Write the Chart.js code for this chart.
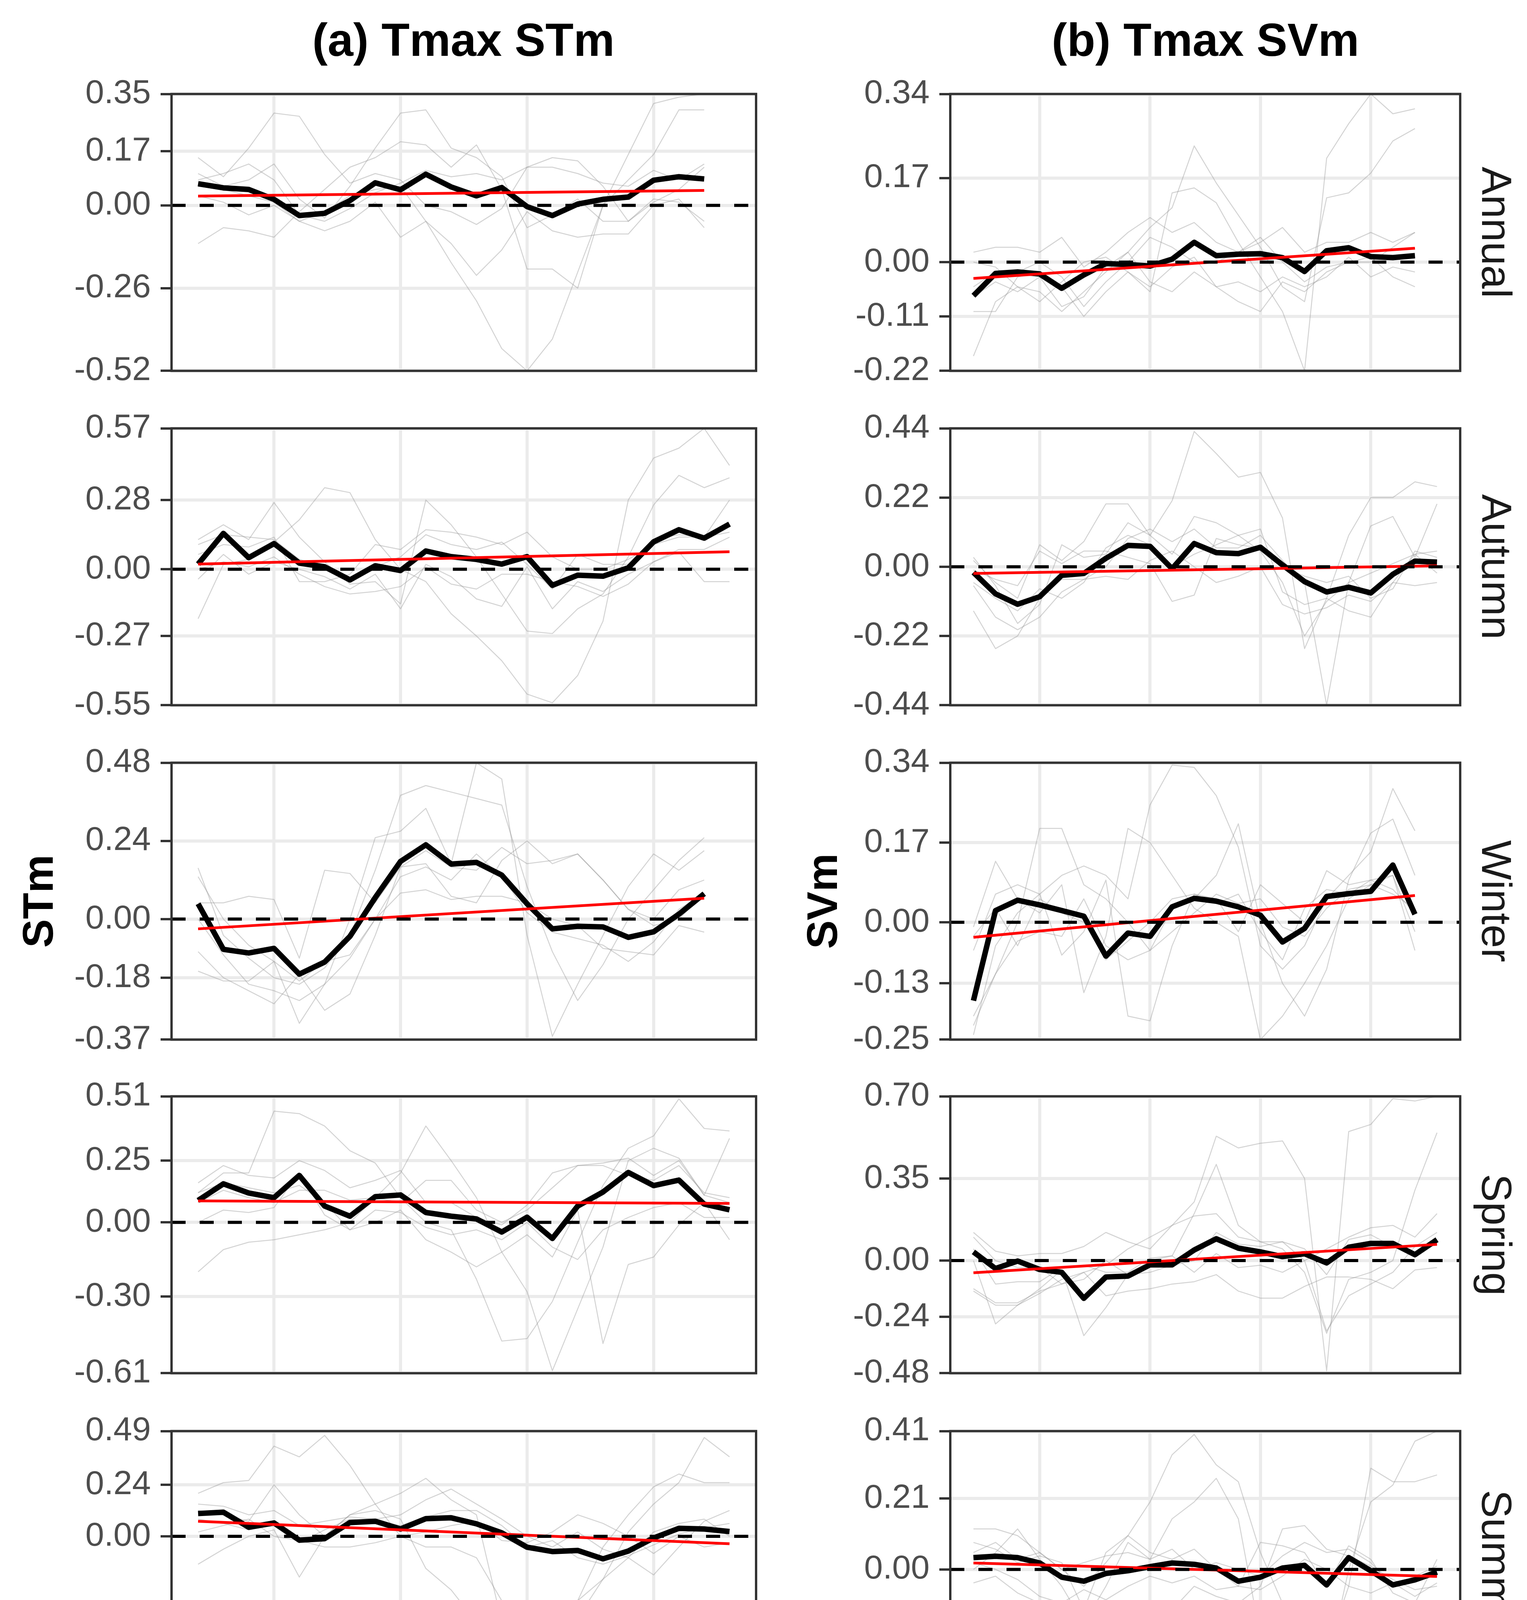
<!DOCTYPE html>
<html>
<head>
<meta charset="utf-8">
<script src="https://cdn.jsdelivr.net/npm/chart.js@4.4.1/dist/chart.umd.min.js"></script>
<style>
  body { margin: 0; background: #fff; width: 3908px; height: 4674px; position: relative; overflow: hidden;
         font-family: "Liberation Sans", Arial, sans-serif; }
  canvas { position: absolute; }
  .t { position: absolute; white-space: nowrap; line-height: 1; transform: translate(-50%, -50%); color: #000; }
  .b { font-weight: bold; }
  .strip { font-size: 108px; color: #1A1A1A; transform: translate(-50%, -50%) rotate(90deg); }
</style>
</head>
<body>
<div class="t b" style="left:1186px;top:102px;font-size:118px">(a) Tmax STm</div>
<div class="t b" style="left:3085px;top:102px;font-size:118px">(b) Tmax SVm</div>
<div class="t b" style="left:97px;top:2307px;font-size:110px;transform:translate(-50%,-50%) rotate(-90deg)">STm</div>
<div class="t b" style="left:2104px;top:2307px;font-size:110px;transform:translate(-50%,-50%) rotate(-90deg)">SVm</div>
<div class="t b" style="left:1186px;top:4596px;font-size:110px">Year</div>
<div class="t b" style="left:3085px;top:4596px;font-size:110px">Year</div>
<div id="strips"></div>
<script>
// years shared by every panel (annual and winter series stop at 2017)
const years = [1997, 1998, 1999, 2000, 2001, 2002, 2003, 2004, 2005, 2006, 2007,
               2008, 2009, 2010, 2011, 2012, 2013, 2014, 2015, 2016, 2017, 2018];
const xTicks = [2000, 2005, 2010, 2015];
const seasons = ['Annual', 'Autumn', 'Winter', 'Spring', 'Summer'];

// ---- (a) STm ----
const stmAnnualTicks = [0.35, 0.17, 0.00, -0.26, -0.52];
const stmAnnualMean = [0.068, 0.055, 0.050, 0.019, -0.032, -0.025, 0.015, 0.071, 0.049, 0.098, 0.058, 0.030, 0.056, -0.004, -0.032, 0.004, 0.019, 0.026, 0.079, 0.090, 0.083];
const stmAnnualTrend = [0.029, 0.047];
const stmAnnualStations = [
  [0.15, 0.09, 0.18, 0.29, 0.28, 0.16, 0.07, 0.10, 0.08, 0.00, -0.02, -0.06, -0.01, 0.12, 0.15, 0.14, 0.06, -0.05, 0.01, 0.05, 0.12],
  [0.10, 0.06, 0.08, 0.13, 0.02, -0.04, 0.06, 0.18, 0.29, 0.30, 0.18, 0.15, 0.09, -0.07, -0.03, 0.02, -0.05, -0.05, 0.02, 0.01, -0.05],
  [-0.12, -0.07, -0.08, -0.10, -0.02, 0.05, 0.12, 0.15, 0.20, 0.19, 0.12, 0.19, 0.05, -0.20, -0.20, -0.26, 0.00, 0.08, 0.16, 0.30, 0.30],
  [0.03, 0.01, -0.03, 0.00, -0.05, -0.02, 0.03, 0.05, 0.06, -0.05, -0.18, -0.30, -0.45, -0.52, -0.42, -0.21, 0.00, 0.16, 0.32, 0.34, 0.35],
  [0.06, 0.05, 0.03, 0.01, -0.05, -0.08, -0.05, 0.01, -0.10, -0.05, -0.12, -0.22, -0.14, -0.02, -0.08, -0.10, -0.09, -0.09, 0.00, 0.02, -0.07],
  [0.08, 0.10, 0.13, 0.08, -0.03, -0.05, -0.01, 0.04, 0.07, 0.11, 0.09, 0.10, 0.08, 0.12, 0.12, 0.10, 0.07, 0.06, 0.11, 0.08, 0.13]
];

const stmAutumnTicks = [0.57, 0.28, 0.00, -0.27, -0.55];
const stmAutumnMean = [0.021, 0.145, 0.047, 0.104, 0.025, 0.010, -0.043, 0.014, -0.005, 0.074, 0.051, 0.040, 0.021, 0.051, -0.065, -0.024, -0.028, 0.006, 0.111, 0.160, 0.126, 0.183];
const stmAutumnTrend = [0.021, 0.071];
const stmAutumnStations = [
  [0.12, 0.18, 0.12, 0.27, 0.13, 0.03, -0.06, -0.05, -0.14, 0.28, 0.18, 0.05, -0.10, -0.25, -0.26, -0.16, -0.10, 0.05, 0.26, 0.38, 0.33, 0.37],
  [-0.20, 0.02, 0.04, 0.11, 0.20, 0.33, 0.31, 0.12, 0.00, -0.05, -0.18, -0.27, -0.37, -0.505, -0.54, -0.43, -0.21, 0.28, 0.45, 0.49, 0.57, 0.42],
  [0.06, 0.10, 0.09, 0.13, -0.05, -0.05, -0.02, 0.10, 0.08, 0.16, 0.15, 0.13, 0.10, 0.15, 0.05, 0.00, 0.00, 0.04, 0.10, 0.13, 0.13, 0.28],
  [-0.04, 0.06, -0.02, 0.03, 0.00, -0.03, -0.08, -0.02, -0.16, 0.02, -0.03, -0.12, -0.15, 0.01, -0.16, -0.05, -0.09, -0.02, 0.03, 0.07, -0.05, -0.05],
  [0.10, 0.14, 0.13, 0.12, 0.04, 0.01, -0.04, 0.01, 0.05, 0.14, 0.10, 0.08, 0.11, 0.02, -0.08, 0.06, 0.02, 0.02, 0.12, 0.14, 0.13, 0.15],
  [0.00, 0.03, 0.01, 0.05, -0.02, -0.07, -0.10, -0.09, -0.07, 0.01, -0.06, -0.08, -0.02, -0.02, -0.05, -0.07, -0.11, -0.06, 0.03, 0.08, 0.08, 0.13]
];

const stmWinterTicks = [0.48, 0.24, 0.00, -0.18, -0.37];
const stmWinterMean = [0.047, -0.093, -0.104, -0.090, -0.169, -0.132, -0.053, 0.066, 0.177, 0.228, 0.169, 0.174, 0.135, 0.047, -0.030, -0.022, -0.024, -0.056, -0.039, 0.015, 0.078];
const stmWinterTrend = [-0.030, 0.064];
const stmWinterStations = [
  [0.157, -0.05, -0.12, -0.18, -0.20, -0.15, -0.05, 0.15, 0.38, 0.41, 0.39, 0.37, 0.35, 0.10, -0.10, -0.25, -0.14, 0.00, 0.09, 0.18, 0.25],
  [0.13, 0.00, -0.08, -0.13, -0.32, -0.20, 0.00, 0.25, 0.27, 0.34, 0.17, 0.48, 0.43, -0.05, -0.36, -0.20, -0.05, 0.10, 0.20, 0.15, 0.21],
  [-0.10, -0.18, -0.22, -0.26, -0.17, -0.28, -0.23, -0.05, 0.16, 0.17, 0.07, 0.05, 0.18, 0.24, 0.17, 0.20, 0.12, 0.03, -0.02, 0.00, 0.08],
  [-0.16, -0.19, -0.19, -0.13, -0.19, -0.13, -0.11, 0.00, 0.08, 0.09, 0.06, 0.07, 0.07, 0.05, 0.00, -0.02, -0.09, -0.10, -0.11, -0.02, -0.04],
  [0.05, 0.05, 0.07, 0.06, -0.12, 0.15, 0.14, 0.05, 0.16, 0.21, 0.16, 0.15, 0.22, 0.17, 0.18, 0.20, 0.12, 0.03, 0.00, 0.09, 0.12],
  [0.00, -0.11, -0.20, -0.22, -0.25, -0.20, -0.12, 0.00, 0.13, 0.16, 0.12, 0.20, 0.13, 0.02, -0.04, -0.06, -0.08, -0.13, -0.07, 0.03, 0.08]
];

const stmSpringTicks = [0.51, 0.25, 0.00, -0.30, -0.61];
const stmSpringMean = [0.089, 0.156, 0.119, 0.100, 0.190, 0.066, 0.025, 0.104, 0.111, 0.040, 0.025, 0.014, -0.039, 0.021, -0.065, 0.066, 0.123, 0.202, 0.149, 0.171, 0.074, 0.051];
const stmSpringTrend = [0.087, 0.077];
const stmSpringStations = [
  [0.12, 0.20, 0.20, 0.45, 0.44, 0.39, 0.29, 0.24, 0.10, 0.00, -0.03, -0.23, -0.48, -0.47, -0.32, -0.08, 0.15, 0.30, 0.35, 0.50, 0.38, 0.37],
  [-0.20, -0.11, -0.08, -0.07, -0.05, -0.03, 0.00, 0.10, 0.20, 0.39, 0.25, 0.10, -0.12, -0.28, -0.60, -0.35, -0.10, 0.25, 0.30, 0.26, 0.11, 0.34],
  [0.16, 0.23, 0.19, 0.18, 0.25, 0.21, 0.14, 0.17, 0.21, 0.08, 0.08, 0.02, -0.01, 0.07, 0.20, 0.23, 0.24, 0.26, 0.19, 0.25, 0.11, 0.08],
  [0.00, 0.05, 0.04, 0.06, 0.20, 0.03, -0.03, 0.00, 0.05, -0.07, -0.12, -0.18, -0.12, -0.05, -0.14, 0.05, -0.49, -0.17, -0.14, -0.01, 0.08, -0.07],
  [0.08, 0.13, 0.10, 0.08, 0.13, 0.13, 0.09, 0.10, 0.08, 0.17, 0.17, 0.05, 0.00, 0.05, 0.14, 0.23, 0.23, 0.19, 0.17, 0.23, 0.12, 0.10],
  [0.12, 0.16, 0.14, 0.12, 0.15, 0.08, -0.03, 0.05, 0.04, -0.02, -0.05, -0.03, -0.07, 0.00, -0.10, -0.15, -0.03, 0.02, 0.06, 0.08, 0.02, 0.02]
];

const stmSummerTicks = [0.49, 0.24, 0.00, -0.42, -0.83];
const stmSummerMean = [0.106, 0.112, 0.042, 0.062, -0.018, -0.011, 0.064, 0.070, 0.034, 0.082, 0.086, 0.058, 0.016, -0.051, -0.071, -0.066, -0.105, -0.069, -0.008, 0.037, 0.034, 0.022];
const stmSummerTrend = [0.070, -0.035];
const stmSummerStations = [
  [0.20, 0.25, 0.26, 0.42, 0.37, 0.47, 0.33, 0.15, 0.00, -0.05, -0.05, -0.10, -0.30, -0.51, -0.45, -0.30, -0.05, 0.10, 0.23, 0.29, 0.25, 0.25],
  [0.12, 0.10, 0.07, 0.24, 0.10, 0.00, 0.10, 0.15, 0.20, 0.27, 0.17, 0.10, -0.40, -0.83, -0.60, -0.38, -0.20, 0.02, 0.15, 0.25, 0.46, 0.37],
  [-0.13, -0.06, 0.00, 0.03, -0.19, 0.00, 0.10, 0.12, 0.08, -0.15, -0.25, -0.40, -0.66, -0.55, -0.45, -0.30, -0.20, -0.10, 0.02, 0.06, 0.08, 0.00],
  [0.15, 0.14, 0.10, 0.12, 0.05, 0.07, 0.09, 0.08, 0.10, 0.17, 0.22, 0.15, 0.08, 0.00, -0.05, 0.02, -0.06, -0.10, -0.18, -0.05, 0.07, 0.12],
  [0.02, 0.05, 0.08, 0.00, -0.02, -0.05, -0.05, -0.03, 0.00, 0.02, 0.05, 0.07, -0.02, -0.03, 0.02, 0.10, 0.06, 0.00, -0.08, 0.00, -0.05, -0.03],
  [0.08, 0.06, 0.03, 0.06, -0.03, 0.03, 0.08, 0.07, 0.05, 0.09, 0.12, 0.12, 0.05, -0.05, -0.02, -0.10, -0.13, -0.09, -0.04, 0.01, 0.04, 0.06]
];

// ---- (b) SVm ----
const svmAnnualTicks = [0.34, 0.17, 0.00, -0.11, -0.22];
const svmAnnualMean = [-0.068, -0.023, -0.020, -0.024, -0.053, -0.026, -0.003, -0.005, -0.008, 0.006, 0.040, 0.013, 0.016, 0.017, 0.009, -0.019, 0.023, 0.029, 0.011, 0.009, 0.013];
const svmAnnualTrend = [-0.033, 0.028];
const svmAnnualStations = [
  [-0.19, -0.08, -0.05, -0.06, -0.10, -0.06, -0.02, 0.02, 0.07, 0.11, 0.235, 0.16, 0.095, 0.03, -0.05, -0.08, 0.13, 0.14, 0.18, 0.245, 0.27],
  [-0.10, -0.10, -0.03, -0.02, -0.05, -0.11, -0.06, -0.02, -0.06, 0.14, 0.15, 0.12, 0.04, -0.03, -0.10, -0.22, 0.21, 0.28, 0.34, 0.30, 0.31],
  [0.02, 0.03, 0.03, 0.02, 0.05, -0.01, 0.02, 0.06, 0.09, 0.06, 0.08, 0.04, 0.02, 0.04, 0.07, 0.02, 0.04, 0.04, 0.06, 0.04, 0.06],
  [-0.07, -0.04, -0.06, -0.03, -0.09, -0.07, -0.01, 0.02, -0.04, -0.06, -0.02, -0.05, -0.04, -0.06, -0.03, -0.05, -0.03, 0.01, -0.03, -0.01, -0.02],
  [0.00, -0.01, -0.05, -0.08, -0.04, 0.00, 0.01, -0.02, -0.05, -0.01, 0.01, -0.05, -0.08, -0.10, -0.04, -0.06, -0.02, 0.00, 0.01, -0.03, -0.05],
  [-0.05, -0.02, -0.02, 0.00, -0.03, -0.09, -0.04, 0.00, 0.05, 0.03, 0.00, 0.00, 0.02, 0.05, 0.00, -0.04, -0.01, 0.00, 0.00, 0.03, 0.06]
];

const svmAutumnTicks = [0.44, 0.22, 0.00, -0.22, -0.44];
const svmAutumnMean = [-0.018, -0.086, -0.119, -0.095, -0.027, -0.021, 0.027, 0.068, 0.065, -0.006, 0.074, 0.045, 0.042, 0.062, 0.006, -0.047, -0.080, -0.065, -0.083, -0.024, 0.018, 0.015];
const svmAutumnTrend = [-0.021, 0.003];
const svmAutumnStations = [
  [0.02, -0.05, -0.10, 0.07, 0.02, 0.08, 0.20, 0.20, 0.10, 0.21, 0.43, 0.36, 0.285, 0.30, 0.155, -0.26, -0.10, 0.10, 0.22, 0.22, 0.27, 0.255],
  [-0.14, -0.26, -0.22, -0.10, -0.04, -0.04, 0.00, 0.09, 0.12, 0.08, 0.12, 0.06, 0.06, 0.10, 0.02, -0.05, -0.44, -0.05, 0.13, 0.16, 0.03, 0.20],
  [-0.05, -0.10, -0.14, -0.07, -0.10, -0.05, 0.06, 0.10, 0.07, 0.00, 0.04, 0.07, 0.10, 0.12, -0.08, -0.12, -0.10, -0.14, -0.16, -0.05, 0.04, 0.05],
  [0.03, -0.06, -0.18, -0.12, 0.07, 0.03, 0.04, 0.14, 0.10, 0.04, 0.16, 0.14, 0.10, 0.05, -0.05, -0.22, -0.11, -0.05, -0.02, 0.01, 0.04, -0.02],
  [-0.06, -0.16, -0.20, -0.16, -0.08, -0.04, -0.03, -0.04, 0.02, 0.05, 0.00, -0.05, -0.03, 0.00, -0.12, -0.15, -0.13, -0.09, -0.11, -0.05, -0.06, -0.05],
  [-0.01, -0.04, -0.06, 0.05, 0.01, 0.05, 0.05, 0.03, 0.01, -0.11, -0.09, 0.09, 0.07, 0.06, 0.00, -0.03, -0.05, -0.03, -0.10, -0.07, 0.05, 0.03]
];

const svmWinterTicks = [0.34, 0.17, 0.00, -0.13, -0.25];
const svmWinterMean = [-0.167, 0.025, 0.047, 0.037, 0.025, 0.013, -0.072, -0.023, -0.030, 0.033, 0.051, 0.045, 0.033, 0.015, -0.042, -0.013, 0.055, 0.061, 0.066, 0.122, 0.017];
const svmWinterTrend = [-0.032, 0.057];
const svmWinterStations = [
  [-0.24, -0.05, 0.02, 0.06, 0.10, 0.12, 0.10, 0.05, 0.25, 0.335, 0.33, 0.27, 0.16, -0.05, -0.10, -0.05, 0.05, 0.10, 0.15, 0.285, 0.195],
  [-0.22, -0.11, 0.00, 0.20, 0.20, 0.08, 0.05, 0.00, -0.06, 0.03, 0.05, 0.10, 0.21, 0.00, -0.13, -0.20, -0.10, 0.09, 0.19, 0.22, 0.10],
  [-0.01, 0.13, 0.05, 0.02, 0.08, -0.15, -0.03, 0.20, 0.17, 0.10, 0.03, 0.00, -0.03, -0.25, -0.20, -0.13, -0.05, 0.05, 0.08, 0.10, -0.06],
  [-0.06, 0.06, 0.08, 0.06, -0.07, -0.02, 0.09, -0.20, -0.21, -0.05, 0.06, 0.05, -0.02, 0.08, 0.04, 0.00, 0.11, 0.08, 0.09, 0.07, 0.02],
  [-0.03, 0.03, -0.05, 0.05, 0.02, 0.00, -0.08, -0.04, 0.00, 0.05, 0.06, 0.04, 0.06, -0.02, -0.08, 0.03, 0.07, 0.06, 0.09, 0.10, -0.02],
  [-0.20, -0.11, -0.04, -0.02, -0.03, 0.05, -0.05, -0.08, -0.06, -0.02, 0.02, 0.06, 0.04, 0.05, -0.01, -0.03, 0.03, 0.07, 0.08, 0.06, 0.03]
];

const svmSpringTicks = [0.70, 0.35, 0.00, -0.24, -0.48];
const svmSpringMean = [0.037, -0.034, -0.002, -0.038, -0.050, -0.161, -0.070, -0.066, -0.018, -0.018, 0.045, 0.093, 0.053, 0.037, 0.017, 0.029, -0.010, 0.057, 0.073, 0.073, 0.025, 0.089];
const svmSpringTrend = [-0.052, 0.069];
const svmSpringStations = [
  [-0.13, -0.19, -0.19, -0.14, -0.08, -0.05, -0.02, 0.05, 0.10, 0.15, 0.25, 0.53, 0.48, 0.50, 0.51, 0.35, -0.47, 0.55, 0.58, 0.69, 0.68, 0.70],
  [0.00, -0.27, -0.19, -0.12, -0.04, -0.32, -0.20, -0.06, 0.00, 0.02, 0.20, 0.41, 0.15, 0.08, 0.05, -0.05, -0.31, -0.08, -0.05, 0.00, 0.30, 0.545],
  [0.12, 0.04, 0.02, 0.03, 0.03, 0.06, 0.12, 0.08, 0.05, 0.15, 0.19, 0.20, 0.10, 0.08, 0.08, 0.00, 0.05, 0.10, 0.14, 0.15, 0.10, 0.20],
  [0.10, 0.00, -0.03, -0.03, -0.10, -0.08, 0.00, -0.06, -0.05, -0.02, 0.00, 0.12, 0.07, 0.06, 0.08, 0.05, -0.06, 0.09, 0.11, 0.06, 0.02, 0.08],
  [-0.12, -0.18, -0.18, -0.13, -0.10, -0.05, -0.15, -0.13, -0.12, -0.10, -0.09, -0.06, -0.13, -0.16, -0.16, -0.11, -0.07, -0.07, -0.08, -0.12, -0.04, -0.03],
  [0.05, -0.10, -0.09, -0.09, -0.03, -0.02, -0.05, -0.05, 0.01, 0.02, -0.05, 0.03, -0.03, -0.02, -0.05, 0.00, -0.30, -0.15, -0.10, -0.05, 0.06, 0.12]
];

const svmSummerTicks = [0.41, 0.21, 0.00, -0.22, -0.43];
const svmSummerMean = [0.035, 0.039, 0.035, 0.019, -0.023, -0.035, -0.012, -0.004, 0.008, 0.019, 0.015, 0.004, -0.035, -0.023, 0.004, 0.012, -0.046, 0.035, -0.004, -0.046, -0.031, -0.008];
const svmSummerTrend = [0.019, -0.021];
const svmSummerStations = [
  [0.12, 0.12, 0.10, 0.05, 0.00, -0.05, 0.02, 0.10, 0.20, 0.34, 0.40, 0.31, 0.26, 0.05, -0.10, -0.43, -0.30, 0.00, 0.20, 0.25, 0.38, 0.41],
  [0.00, 0.05, 0.12, 0.03, -0.05, -0.16, -0.05, 0.08, 0.03, 0.15, 0.20, 0.27, 0.15, -0.20, -0.29, -0.30, -0.24, -0.05, 0.30, 0.26, 0.26, 0.28],
  [-0.04, -0.02, -0.07, -0.10, -0.13, -0.12, -0.15, -0.17, -0.17, -0.12, -0.05, -0.08, -0.10, -0.05, 0.12, 0.13, 0.06, 0.04, 0.01, -0.03, -0.06, -0.05],
  [0.08, 0.06, 0.02, 0.04, 0.02, -0.12, 0.05, 0.10, 0.05, 0.03, 0.06, 0.00, -0.05, 0.08, 0.07, 0.05, -0.05, 0.07, 0.03, -0.07, -0.10, 0.03],
  [0.02, 0.00, -0.03, -0.08, -0.10, -0.06, -0.09, -0.05, -0.02, -0.04, -0.02, -0.06, -0.05, -0.06, -0.02, 0.03, 0.00, -0.05, -0.07, -0.04, -0.08, -0.04],
  [0.05, 0.08, 0.03, 0.05, 0.00, 0.02, 0.04, 0.05, 0.03, 0.06, 0.00, 0.02, 0.00, -0.02, 0.04, 0.08, 0.05, 0.06, 0.02, -0.05, -0.02, 0.01]
];

// grid of panels: column 0 = STm, column 1 = SVm
const panels = [
  [
    { ticks: stmAnnualTicks, mean: stmAnnualMean, trend: stmAnnualTrend, stations: stmAnnualStations },
    { ticks: stmAutumnTicks, mean: stmAutumnMean, trend: stmAutumnTrend, stations: stmAutumnStations },
    { ticks: stmWinterTicks, mean: stmWinterMean, trend: stmWinterTrend, stations: stmWinterStations },
    { ticks: stmSpringTicks, mean: stmSpringMean, trend: stmSpringTrend, stations: stmSpringStations },
    { ticks: stmSummerTicks, mean: stmSummerMean, trend: stmSummerTrend, stations: stmSummerStations }
  ],
  [
    { ticks: svmAnnualTicks, mean: svmAnnualMean, trend: svmAnnualTrend, stations: svmAnnualStations },
    { ticks: svmAutumnTicks, mean: svmAutumnMean, trend: svmAutumnTrend, stations: svmAutumnStations },
    { ticks: svmWinterTicks, mean: svmWinterMean, trend: svmWinterTrend, stations: svmWinterStations },
    { ticks: svmSpringTicks, mean: svmSpringMean, trend: svmSpringTrend, stations: svmSpringStations },
    { ticks: svmSummerTicks, mean: svmSummerMean, trend: svmSummerTrend, stations: svmSummerStations }
  ]
];

// page layout (pixels)
const PANEL_LEFT = [439, 2432];
const PANEL_W = [1496, 1305];
const PANEL_TOP = [224, 1080, 1936, 2790, 3647];
const PANEL_H = 742;
const AXIS_W = 440;
const PAD = 60;
const X_AXIS_H = 140;

Chart.defaults.font.family = '"Liberation Sans", Arial, sans-serif';

// dashed zero line and dark panel frame
const zeroAndFrame = {
  id: 'zeroAndFrame',
  afterDatasetsDraw(chart) {
    const { ctx, chartArea: a } = chart;
    const y0 = chart.scales.y.getPixelForValue(0);
    ctx.save();
    ctx.beginPath();
    ctx.rect(a.left, a.top, a.width, a.height);
    ctx.clip();
    ctx.setLineDash([36, 36]);
    ctx.strokeStyle = '#000';
    ctx.lineWidth = 8;
    ctx.beginPath();
    ctx.moveTo(a.left, y0);
    ctx.lineTo(a.right, y0);
    ctx.stroke();
    ctx.restore();
  },
  afterDraw(chart) {
    const { ctx, chartArea: a } = chart;
    ctx.save();
    ctx.strokeStyle = '#333333';
    ctx.lineWidth = 6;
    ctx.strokeRect(a.left, a.top, a.width, a.height);
    ctx.restore();
  }
};

function makePanel(col, row, p) {
  const bottom = row === PANEL_TOP.length - 1;
  const w = AXIS_W + PANEL_W[col] + 20;
  const h = PAD + PANEL_H + (bottom ? X_AXIS_H : PAD);
  const c = document.createElement('canvas');
  c.width = w;
  c.height = h;
  c.style.left = (PANEL_LEFT[col] - AXIS_W) + 'px';
  c.style.top = (PANEL_TOP[row] - PAD) + 'px';
  c.style.width = w + 'px';
  c.style.height = h + 'px';
  document.body.appendChild(c);

  const yrs = years.slice(0, p.mean.length);
  const pts = vals => vals.map((v, i) => ({ x: yrs[i], y: v }));

  const datasets = p.stations.map(s => ({
    data: pts(s), borderColor: 'rgba(150,150,150,0.42)', borderWidth: 2.5, order: 3
  }));
  datasets.push({ data: pts(p.mean), borderColor: '#000000', borderWidth: 14, order: 2 });
  datasets.push({
    data: [{ x: yrs[0], y: p.trend[0] }, { x: yrs[yrs.length - 1], y: p.trend[1] }],
    borderColor: '#FF0000', borderWidth: 7, order: 1
  });

  new Chart(c, {
    type: 'line',
    data: { datasets },
    options: {
      responsive: false,
      animation: false,
      devicePixelRatio: 1,
      layout: { padding: { top: PAD, bottom: bottom ? 0 : PAD, left: 0, right: 20 } },
      elements: {
        point: { radius: 0 },
        line: { tension: 0, borderJoinStyle: 'round', borderCapStyle: 'butt', fill: false }
      },
      plugins: { legend: { display: false }, tooltip: { enabled: false } },
      scales: {
        x: {
          type: 'linear', min: 1995.95, max: 2019.05,
          afterBuildTicks: ax => { ax.ticks = xTicks.map(v => ({ value: v })); },
          afterFit: ax => { ax.height = bottom ? X_AXIS_H : 0; },
          grid: { color: '#EBEBEB', lineWidth: 8, drawTicks: bottom, tickLength: 27,
                  tickColor: '#333333', tickWidth: 6 },
          border: { display: false },
          ticks: { display: bottom, font: { size: 86 }, color: '#4D4D4D', padding: 20,
                   maxRotation: 0, callback: v => String(v) }
        },
        y: {
          min: p.ticks[p.ticks.length - 1], max: p.ticks[0],
          afterBuildTicks: ax => { ax.ticks = p.ticks.map(v => ({ value: v })); },
          afterFit: ax => { ax.width = AXIS_W; },
          grid: { color: '#EBEBEB', lineWidth: 8, tickLength: 28, tickColor: '#333333', tickWidth: 6 },
          border: { display: false },
          ticks: { font: { size: 86 }, color: '#4D4D4D', padding: 25, callback: v => v.toFixed(2) }
        }
      }
    },
    plugins: [zeroAndFrame]
  });
}

panels.forEach((column, col) => column.forEach((p, row) => makePanel(col, row, p)));

// facet strip labels on the right
const strips = document.getElementById('strips');
seasons.forEach((s, row) => {
  const d = document.createElement('div');
  d.className = 't strip';
  d.style.left = '3830px';
  d.style.top = (PANEL_TOP[row] + PANEL_H / 2) + 'px';
  d.textContent = s;
  strips.appendChild(d);
});
</script>
</body>
</html>
